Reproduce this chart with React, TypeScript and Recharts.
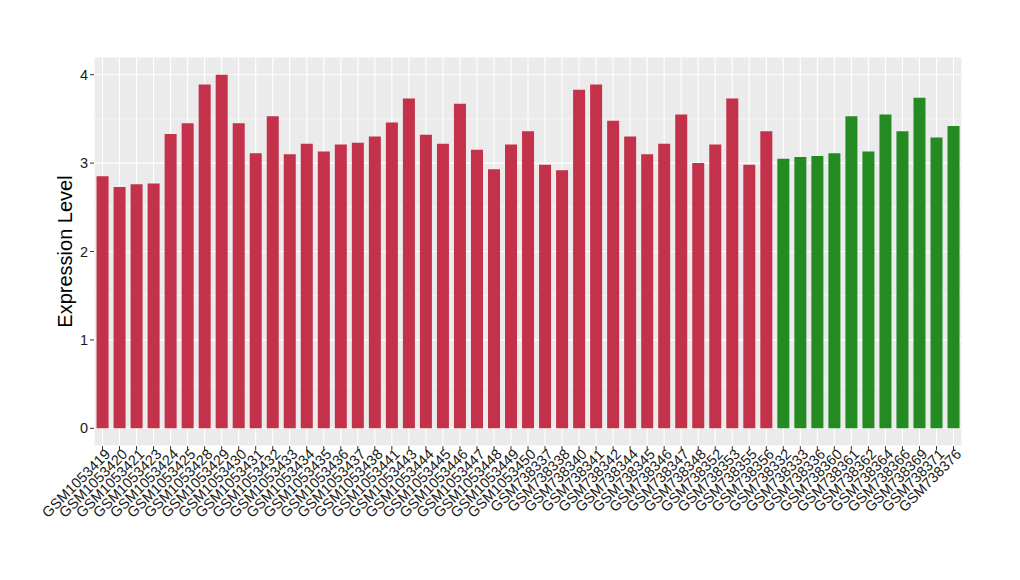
import React from 'react';
import { BarChart, Bar, XAxis, YAxis, CartesianGrid, Cell } from 'recharts';

const samples = [
  'GSM1053419','GSM1053420','GSM1053421','GSM1053423','GSM1053424','GSM1053425','GSM1053428','GSM1053429','GSM1053430','GSM1053431',
  'GSM1053432','GSM1053433','GSM1053434','GSM1053435','GSM1053436','GSM1053437','GSM1053438','GSM1053441','GSM1053443','GSM1053444',
  'GSM1053445','GSM1053446','GSM1053447','GSM1053448','GSM1053449','GSM1053450','GSM738337','GSM738338','GSM738340','GSM738341',
  'GSM738342','GSM738344','GSM738345','GSM738346','GSM738347','GSM738348','GSM738352','GSM738353','GSM738355','GSM738356',
  'GSM738332','GSM738333','GSM738336','GSM738360','GSM738361','GSM738362','GSM738364','GSM738366','GSM738369','GSM738371','GSM738376',
];
const values = [
  2.85, 2.73, 2.76, 2.77, 3.33, 3.45, 3.89, 4.0, 3.45, 3.11,
  3.53, 3.10, 3.22, 3.13, 3.21, 3.23, 3.30, 3.46, 3.73, 3.32,
  3.22, 3.67, 3.15, 2.93, 3.21, 3.36, 2.98, 2.92, 3.83, 3.89,
  3.48, 3.30, 3.10, 3.22, 3.55, 3.00, 3.21, 3.73, 2.98, 3.36,
  3.05, 3.07, 3.08, 3.11, 3.53, 3.13, 3.55, 3.36, 3.74, 3.29, 3.42,
];
const groups = [
  'a','a','a','a','a','a','a','a','a','a',
  'a','a','a','a','a','a','a','a','a','a',
  'a','a','a','a','a','a','a','a','a','a',
  'a','a','a','a','a','a','a','a','a','a',
  'b','b','b','b','b','b','b','b','b','b','b',
];
const groupColors: Record<string, string> = { a: '#C3314A', b: '#238B22' };
const yTicks = [0, 1, 2, 3, 4];
const minorTicks = [0.5, 1.5, 2.5, 3.5];

const data = samples.map((s, i) => ({ name: s, value: values[i], group: groups[i] }));

const FONT = '"Liberation Sans", Arial, Helvetica, sans-serif';

const XTick = (props: any) => {
  const { x, y, payload } = props;
  return (
    <text
      x={x}
      y={y}
      transform={`rotate(-45 ${x} ${y})`}
      textAnchor="end"
      dominantBaseline="hanging"
      fontSize={14.5}
      fontFamily={FONT}
      fill="#1a1a1a"
      dx={4}
      dy={-2}
    >
      {payload.value}
    </text>
  );
};

export default function App() {
  return (
    <div style={{ position: 'absolute', left: 0, top: 0, width: 1020, height: 580, background: '#fff' }}>
      <BarChart
        width={1020}
        height={580}
        data={data}
        margin={{ top: 57, right: 58, bottom: 0, left: 0 }}
        barCategoryGap="15%"
      >
        <CartesianGrid fill="#EBEBEB" stroke="#FFFFFF" strokeWidth={1.1} horizontal={true} vertical={true} />
        <CartesianGrid
          stroke="#FFFFFF"
          strokeWidth={0.55}
          vertical={false}
          horizontal={true}
          {...({ horizontalValues: minorTicks } as any)}
        />
        <XAxis
          dataKey="name"
          interval={0}
          height={134}
          tick={<XTick />}
          tickLine={{ stroke: '#333333' }}
          tickSize={4}
          axisLine={false}
        />
        <YAxis
          width={94}
          domain={[-0.2, 4.2]}
          ticks={yTicks}
          type="number"
          allowDataOverflow
          tick={{ fontSize: 14.5, fill: '#1a1a1a', fontFamily: FONT }}
          tickLine={{ stroke: '#333333' }}
          tickSize={4}
          axisLine={false}
          label={{
            value: 'Expression Level',
            angle: -90,
            position: 'insideLeft',
            offset: 0,
            dx: 65,
            style: { fontSize: 20, fill: '#000', fontFamily: FONT, textAnchor: 'middle' },
          }}
        />
        <Bar dataKey="value" isAnimationActive={false}>
          {data.map((d, i) => (
            <Cell key={i} fill={groupColors[d.group]} />
          ))}
        </Bar>
      </BarChart>
    </div>
  );
}
